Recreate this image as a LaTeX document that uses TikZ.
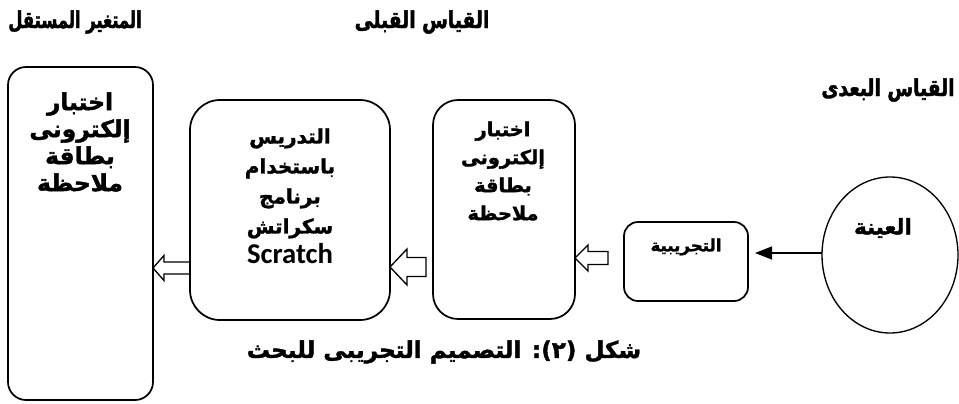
\documentclass[tikz,border=0pt]{standalone}
\usepackage{fontspec}
\usetikzlibrary{arrows.meta,calc,shapes.geometric}
\TeXXeTstate=1
\newfontfamily\arabicfont[Script=Arabic, BoldFeatures={FakeBold=1.6}]{DejaVu Sans}
\newfontfamily\arabicnarrow[Script=Arabic, FakeStretch=0.8, BoldFeatures={FakeBold=1.8,FakeStretch=0.8}]{DejaVu Sans}
\newfontfamily\arabicnarrower[Script=Arabic, FakeStretch=0.7, BoldFeatures={FakeBold=1.8,FakeStretch=0.7}]{DejaVu Sans}
\newfontfamily\latinfont{Carlito}
\newcommand\AR[1]{\beginR #1\endR}
\newcommand\hollowarrow[5]{%
  \draw[hollow] let \p1=(#1), \p2=(#2) in
    (\x1,\y1-#3) -- (\x2+#5,\y1-#3) -- (\x2+#5,\y1-#4) -- (\x2,\y1)
    -- (\x2+#5,\y1+#4) -- (\x2+#5,\y1+#3) -- (\x1,\y1+#3) -- cycle;}
\tikzset{
  frame/.style={draw, line width=1.3pt, rectangle, inner sep=0pt, outer sep=0pt},
  hollow/.style={draw, line width=1pt, line join=miter},
  artxt/.style={align=center, inner sep=0pt},
  title/.style={font=\arabicnarrow\bfseries\fontsize{17.5}{20}\selectfont, inner sep=0pt},
}
\begin{document}
\begin{tikzpicture}[x=0.75pt,y=-0.75pt]
\useasboundingbox (0,0) rectangle (959,403);
% titles
\node[title, font=\arabicnarrower\bfseries\fontsize{17.5}{20}\selectfont] (t1) at (75,22) {\AR{المتغير المستقل}};
\node[title] (t2) at (422,22) {\AR{القياس القبلى}};
\node[title] (t3) at (888,90) {\AR{القياس البعدى}};
% frames
\node[frame, rounded corners=13.5pt, minimum width=108.75pt, minimum height=249.75pt] (lb) at (80.5,233.5) {};
\node[frame, rounded corners=22.5pt, minimum width=150pt, minimum height=165pt] (mb) at (290,210) {};
\node[frame, rounded corners=18.75pt, minimum width=106.5pt, minimum height=164.25pt] (rb) at (504,209.5) {};
\node[frame, rounded corners=10.5pt, minimum width=93pt, minimum height=59.25pt] (tj) at (686,261.5) {};
\node[draw, ellipse, line width=1pt, inner sep=0pt, outer sep=0pt, minimum width=102pt, minimum height=117pt] (ell) at (890,255) {};
% box texts
\node[artxt, font=\arabicfont\bfseries\fontsize{17.5}{20.25}\selectfont] (lbt) at (80,142) {\AR{اختبار}\\\AR{إلكترونى}\\\AR{بطاقة}\\\AR{ملاحظة}};
\node[artxt, font=\arabicfont\bfseries\fontsize{15}{22.5}\selectfont] (mbt) at (290,196) {\AR{التدريس}\\\AR{باستخدام}\\\AR{برنامج}\\\AR{سكراتش}\\{\latinfont\bfseries\fontsize{21.5}{22.5}\selectfont Scratch}};
\node[artxt, font=\arabicfont\bfseries\fontsize{14.5}{21}\selectfont] (rbt) at (503,171) {\AR{اختبار}\\\AR{إلكترونى}\\\AR{بطاقة}\\\AR{ملاحظة}};
\node[artxt, font=\arabicfont\bfseries\fontsize{12.5}{15}\selectfont] (tjt) at (686,247) {\AR{التجريبية}};
\node[artxt, font=\arabicfont\bfseries\fontsize{16}{18}\selectfont] (elt) at (883,228) {\AR{العينة}};
% caption
\node[artxt, font=\arabicfont\bfseries\fontsize{17.3}{20}\selectfont] (cap) at (444,352) {\AR{شكل (٢): التصميم التجريبى للبحث}};
% solid arrow
\coordinate (sa) at (755,253);
\draw[line width=1pt, -{Triangle[length=12.75pt,width=9.75pt]}] (ell.west |- sa) -- (sa);
% hollow arrows
\coordinate (aT) at (608,258);
\hollowarrow{aT}{rb.east |- aT}{4.9pt}{9.75pt}{9.75pt}
\coordinate (bT) at (426,267);
\hollowarrow{bT}{mb.east |- bT}{7.1pt}{13.5pt}{12.75pt}
\coordinate (cT) at (290,268);
\hollowarrow{mb.west |- cT}{lb.east |- cT}{4.5pt}{9.4pt}{8.25pt}
\end{tikzpicture}
\end{document}
